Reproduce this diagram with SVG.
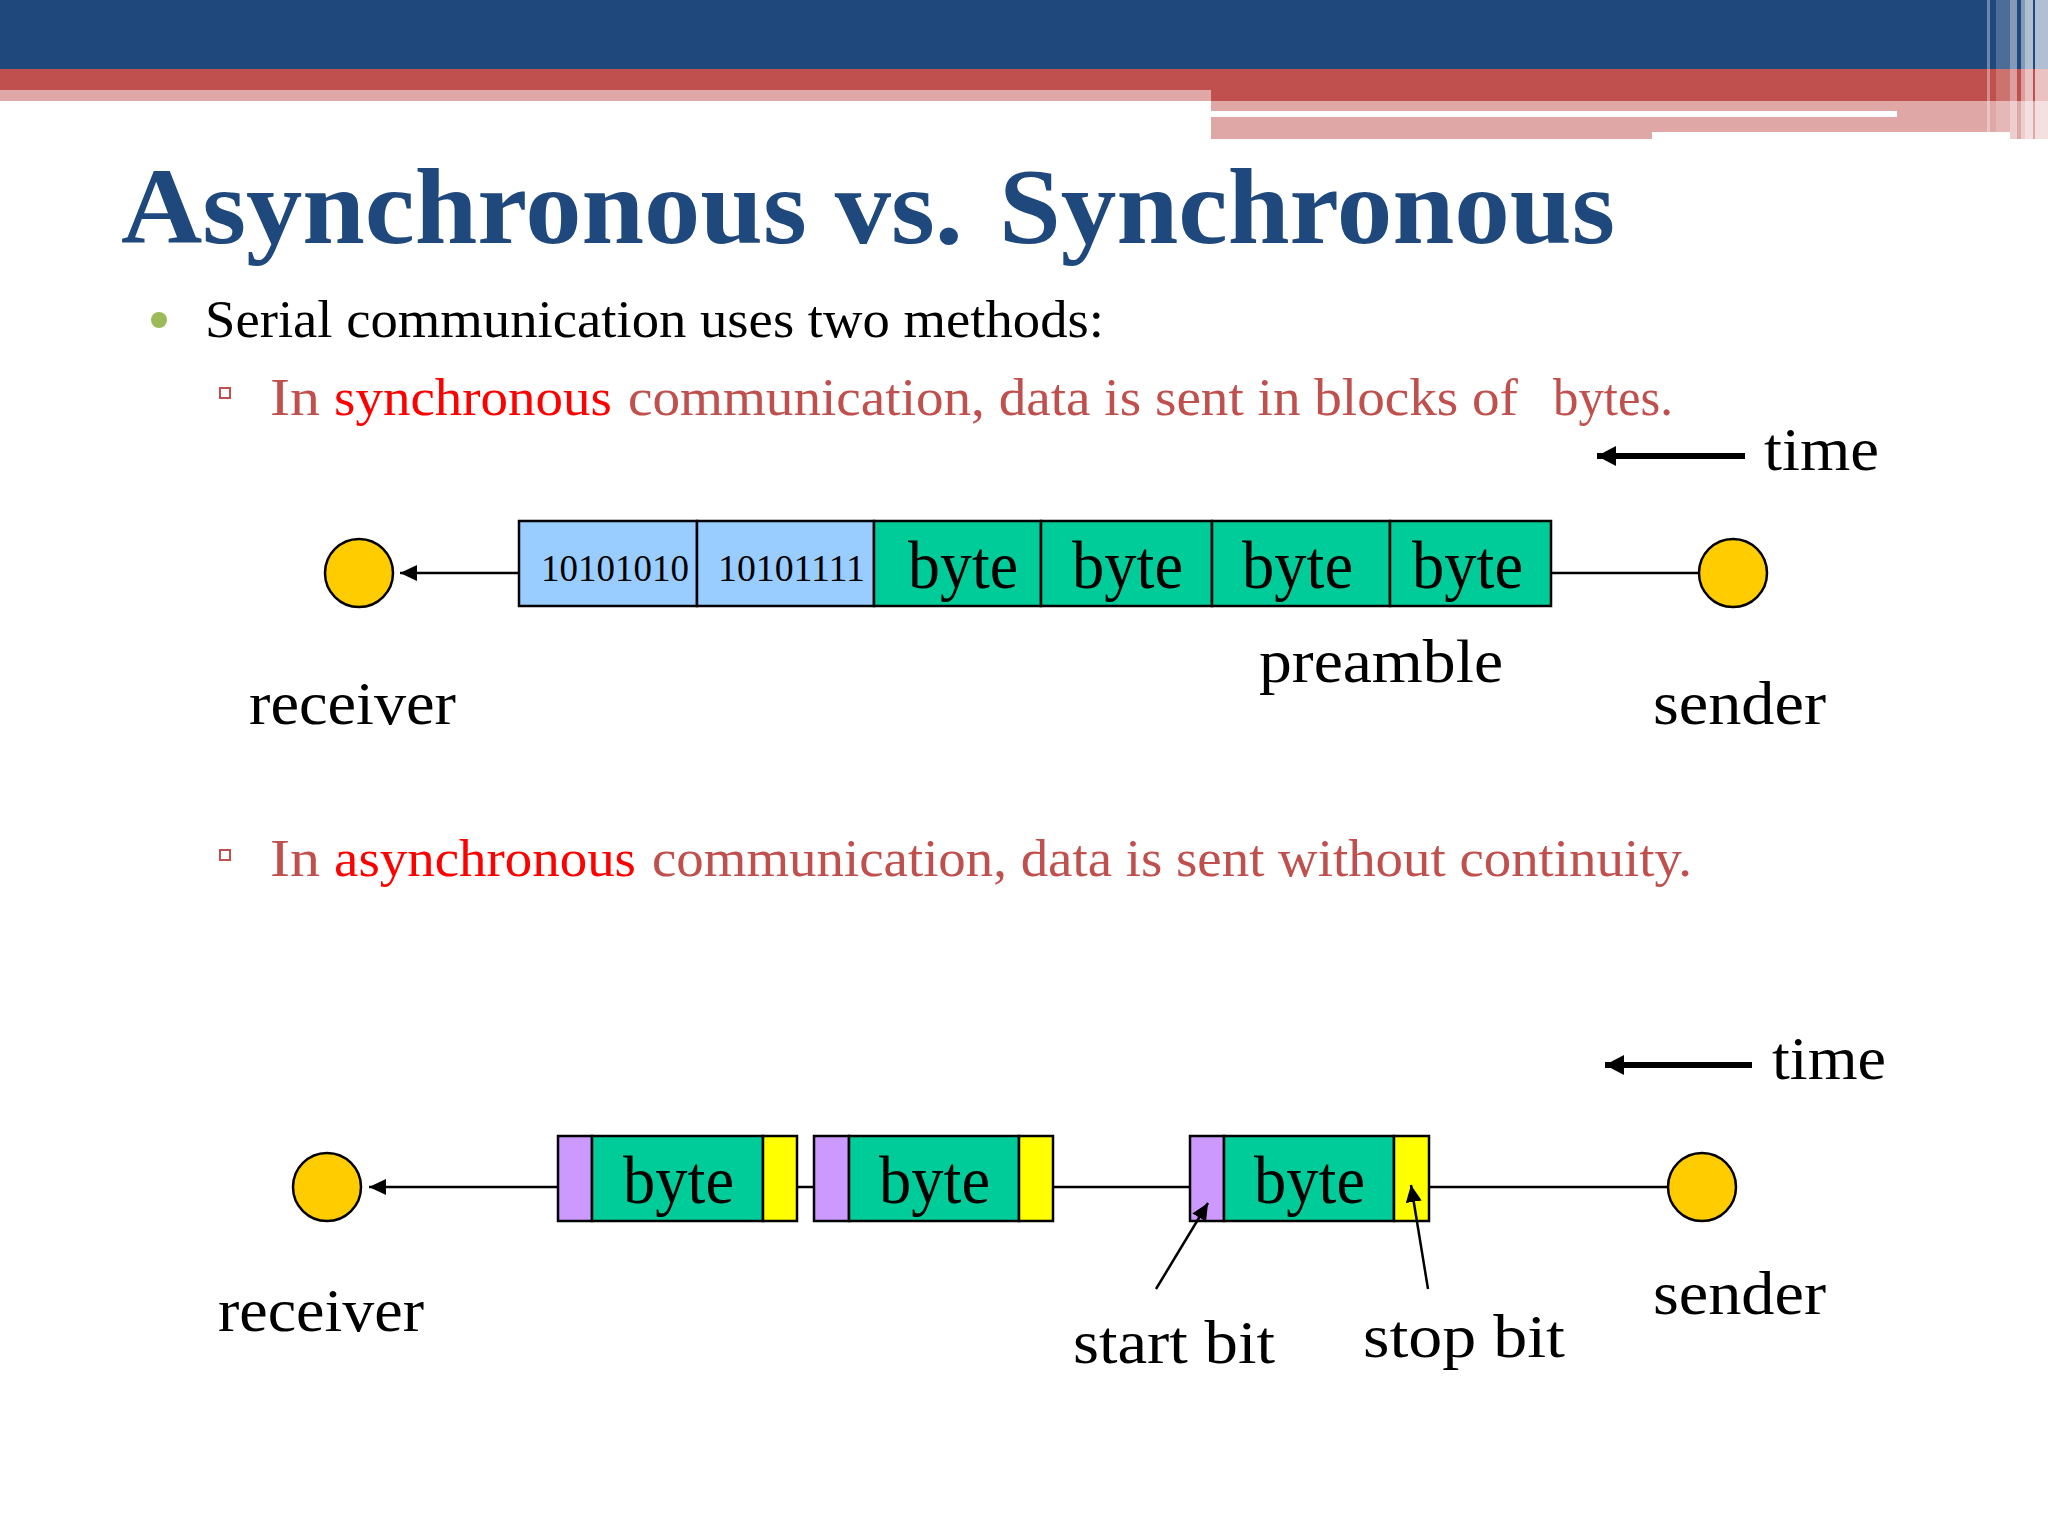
<svg xmlns="http://www.w3.org/2000/svg" width="2048" height="1536" viewBox="0 0 2048 1536">
<style>
text{font-family:"Liberation Serif","Times New Roman",serif;fill:#000}
.title{font-size:108px;font-weight:700;fill:#1f497d}
.body{font-size:53px}
.sub{font-size:53px;fill:#c0504d}
.red{font-size:53px;fill:#f00}
.label{font-size:62px}
.byte{font-size:68px}
.bin{font-size:38px}
.s{stroke:#000;stroke-width:2.5}
.blue{fill:#99ccff}.green{fill:#00cc99}.purple{fill:#cc99ff}.yellow{fill:#ffff00}
.node{fill:#ffcc00;stroke:#000;stroke-width:2.5}
.line{fill:none;stroke:#000;stroke-width:2.5}
.thick{fill:none;stroke:#000;stroke-width:6}
</style>
<defs>
<marker id="a" markerUnits="userSpaceOnUse" markerWidth="18" markerHeight="16" refX="17" refY="8" orient="auto"><path d="M0 0L17 8L0 16z" fill="#000"/></marker>
<marker id="b" markerUnits="userSpaceOnUse" markerWidth="20" markerHeight="20" refX="19" refY="10" orient="auto"><path d="M0 0L19 10L0 20z" fill="#000"/></marker>
</defs>
<rect width="2048" height="1536" fill="#fff"/>
<g id="banner">
<rect x="0" y="0" width="2048" height="69" fill="#1f497d"/>
<rect x="0" y="69" width="2048" height="32" fill="#c0504d"/>
<rect x="0" y="90" width="1211" height="11" fill="#dfa7a6"/>
<rect x="1211" y="101" width="837" height="31" fill="#dfa7a6"/>
<rect x="1211" y="132" width="441" height="7" fill="#dfa7a6"/>
<rect x="1211" y="111" width="686" height="6" fill="#fff"/>
<rect x="2010" y="132" width="38" height="7" fill="#dfa7a6"/>
<g fill="#fff">
<rect x="1987" y="0" width="3" height="132" opacity=".35"/>
<rect x="1996" y="0" width="14" height="132" opacity=".2"/>
<rect x="2010" y="0" width="7" height="139" opacity=".45"/>
<rect x="2021" y="0" width="4" height="139" opacity=".45"/>
<rect x="2025" y="0" width="8" height="139" opacity=".65"/>
<rect x="2035" y="0" width="13" height="139" opacity=".65"/>
</g>
</g>
<g id="title">
<text class="title" x="121" y="243" textLength="842" lengthAdjust="spacingAndGlyphs">Asynchronous vs.</text>
<text class="title" x="999" y="243" textLength="616" lengthAdjust="spacingAndGlyphs">Synchronous</text>
</g>
<g id="bullets">
<circle cx="159" cy="320" r="8" fill="#9bbb59"/>
<rect x="220" y="388" width="10" height="10" fill="#fff" stroke="#c0504d" stroke-width="2"/>
<rect x="220" y="850" width="10" height="10" fill="#fff" stroke="#c0504d" stroke-width="2"/>
</g>
<text class="body" x="205" y="337" textLength="899" lengthAdjust="spacingAndGlyphs">Serial communication uses two methods:</text>
<text class="sub" x="270" y="415" textLength="50" lengthAdjust="spacingAndGlyphs">In</text>
<text class="red" x="334" y="415" textLength="278" lengthAdjust="spacingAndGlyphs">synchronous</text>
<text class="sub" x="628" y="415" textLength="890" lengthAdjust="spacingAndGlyphs">communication, data is sent in blocks of</text>
<text class="sub" x="1553" y="415" textLength="120" lengthAdjust="spacingAndGlyphs">bytes.</text>
<text class="sub" x="270" y="876" textLength="50" lengthAdjust="spacingAndGlyphs">In</text>
<text class="red" x="334" y="876" textLength="302" lengthAdjust="spacingAndGlyphs">asynchronous</text>
<text class="sub" x="652" y="876" textLength="1040" lengthAdjust="spacingAndGlyphs">communication, data is sent without continuity.</text>
<g id="connectors">
<path class="line" d="M519 573H400" marker-end="url(#a)"/>
<path class="line" d="M1551 573H1699"/>
<path class="thick" d="M1745 456H1597" marker-end="url(#b)"/>
<path class="line" d="M558 1187H369" marker-end="url(#a)"/>
<path class="line" d="M797 1187H814"/>
<path class="line" d="M1053 1187H1189"/>
<path class="line" d="M1429 1187H1668"/>
<path class="thick" d="M1752 1065H1605" marker-end="url(#b)"/>
</g>
<g id="receiver-top"><circle class="node" cx="359" cy="573" r="34"/><text class="label" x="249" y="724" textLength="207" lengthAdjust="spacingAndGlyphs">receiver</text></g>
<g id="sender-top"><circle class="node" cx="1733" cy="573" r="34"/><text class="label" x="1653" y="724" textLength="173" lengthAdjust="spacingAndGlyphs">sender</text></g>
<g id="time-top"><text class="label" x="1764" y="470" textLength="115" lengthAdjust="spacingAndGlyphs">time</text></g>
<g id="sync-frame">
<rect class="blue s" x="519" y="521" width="178" height="85"/>
<rect class="blue s" x="697" y="521" width="177" height="85"/>
<rect class="green s" x="874" y="521" width="167" height="85"/>
<rect class="green s" x="1041" y="521" width="171" height="85"/>
<rect class="green s" x="1212" y="521" width="178" height="85"/>
<rect class="green s" x="1390" y="521" width="161" height="85"/>
<text class="bin" x="541" y="581" textLength="148" lengthAdjust="spacingAndGlyphs">10101010</text>
<text class="bin" x="718" y="581" textLength="147" lengthAdjust="spacingAndGlyphs">10101111</text>
<text class="byte" x="908" y="588" textLength="110" lengthAdjust="spacingAndGlyphs">byte</text>
<text class="byte" x="1072" y="588" textLength="111" lengthAdjust="spacingAndGlyphs">byte</text>
<text class="byte" x="1242" y="588" textLength="111" lengthAdjust="spacingAndGlyphs">byte</text>
<text class="byte" x="1412" y="588" textLength="111" lengthAdjust="spacingAndGlyphs">byte</text>
</g>
<text class="label" x="1259" y="682" textLength="244" lengthAdjust="spacingAndGlyphs">preamble</text>
<g id="receiver-bottom"><circle class="node" cx="327" cy="1187" r="34"/><text class="label" x="218" y="1331" textLength="206" lengthAdjust="spacingAndGlyphs">receiver</text></g>
<g id="sender-bottom"><circle class="node" cx="1702" cy="1187" r="34"/><text class="label" x="1653" y="1314" textLength="173" lengthAdjust="spacingAndGlyphs">sender</text></g>
<g id="time-bottom"><text class="label" x="1772" y="1079" textLength="114" lengthAdjust="spacingAndGlyphs">time</text></g>
<g id="async-byte-1">
<rect class="purple s" x="558" y="1136" width="34" height="85"/>
<rect class="green s" x="592" y="1136" width="171" height="85"/>
<rect class="yellow s" x="763" y="1136" width="34" height="85"/>
<text class="byte" x="623" y="1203" textLength="111" lengthAdjust="spacingAndGlyphs">byte</text>
</g>
<g id="async-byte-2">
<rect class="purple s" x="814" y="1136" width="35" height="85"/>
<rect class="green s" x="849" y="1136" width="170" height="85"/>
<rect class="yellow s" x="1019" y="1136" width="34" height="85"/>
<text class="byte" x="879" y="1203" textLength="111" lengthAdjust="spacingAndGlyphs">byte</text>
</g>
<g id="async-byte-3">
<rect class="purple s" x="1190" y="1136" width="34" height="85"/>
<rect class="green s" x="1224" y="1136" width="170" height="85"/>
<rect class="yellow s" x="1394" y="1136" width="35" height="85"/>
<text class="byte" x="1254" y="1203" textLength="111" lengthAdjust="spacingAndGlyphs">byte</text>
</g>
<g id="bit-pointers">
<path class="line" d="M1156 1289L1208 1203" marker-end="url(#a)"/>
<path class="line" d="M1428 1289L1411 1185" marker-end="url(#a)"/>
</g>
<text class="label" x="1073" y="1363" textLength="202" lengthAdjust="spacingAndGlyphs">start bit</text>
<text class="label" x="1363" y="1357" textLength="202" lengthAdjust="spacingAndGlyphs">stop bit</text>
</svg>
